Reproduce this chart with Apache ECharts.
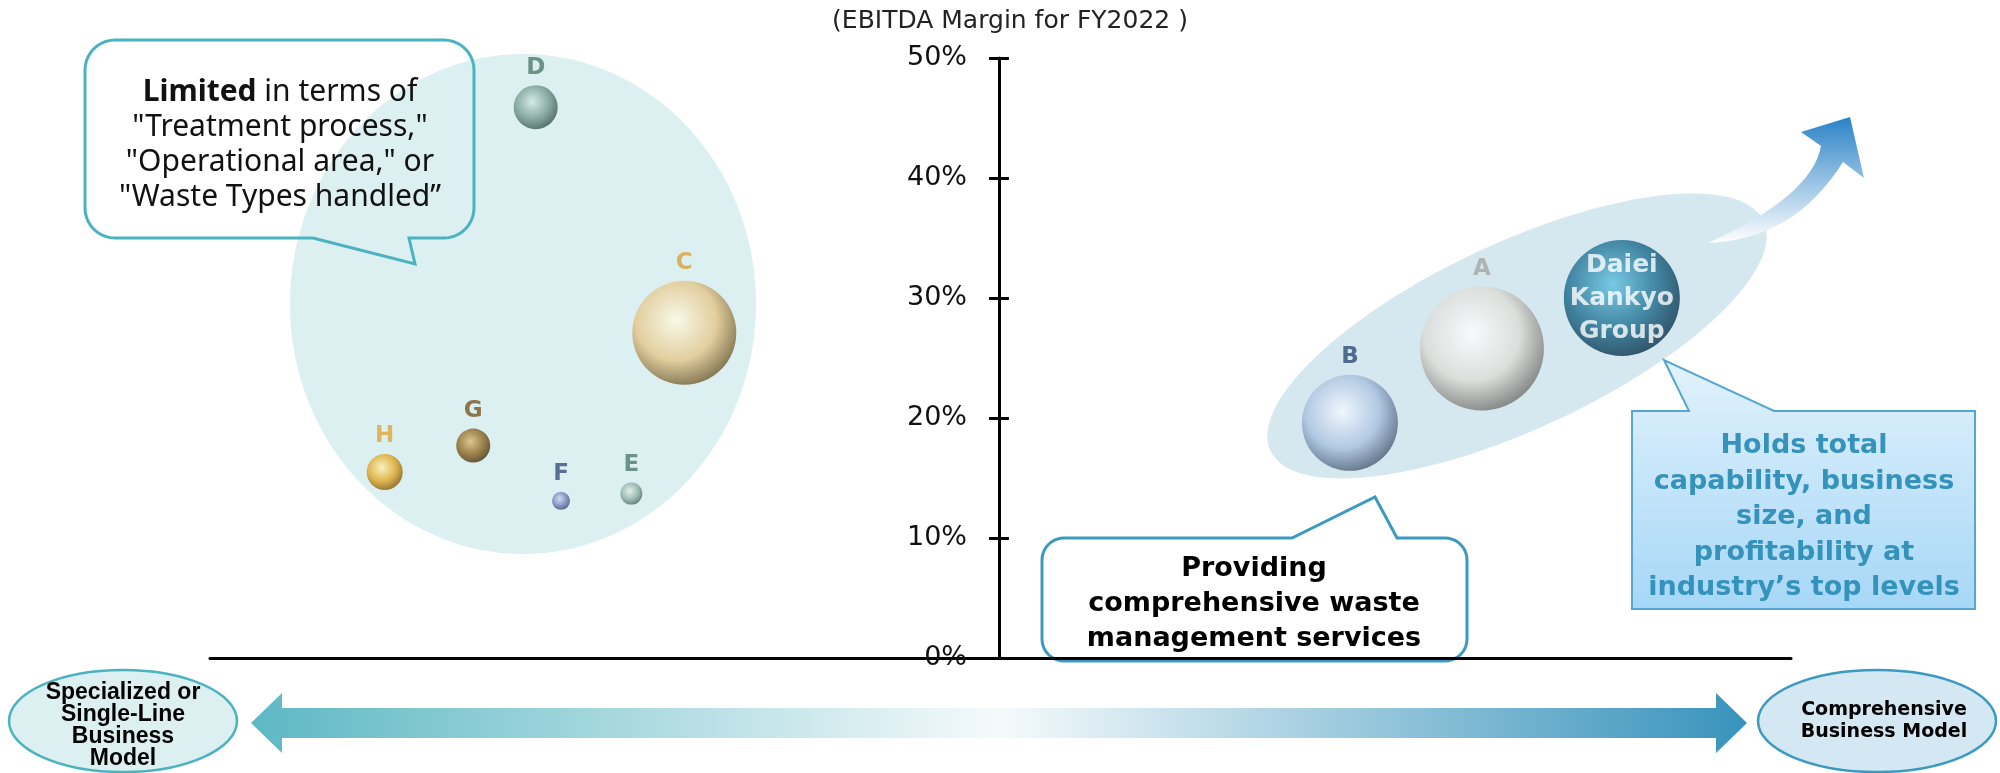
<!DOCTYPE html>
<html><head><meta charset="utf-8">
<script src="https://cdn.jsdelivr.net/npm/echarts@6/dist/echarts.min.js"></script>
<style>html,body{margin:0;padding:0;background:#fff;}#c{width:2000px;height:773px;}</style>
</head><body><div id="c"></div>
<script>
// ---- data ----
const companies = ['D', 'C', 'H', 'G', 'F', 'E', 'B', 'A', 'Daiei Kankyo Group'];
const businessScope = [-58.8, -40.0, -77.9, -66.7, -55.6, -46.7, 44.2, 60.9, 78.6]; // specialized (-) ... comprehensive (+)
const ebitdaMargin = [45.9, 27.1, 15.5, 17.7, 13.1, 13.7, 19.6, 25.8, 30.0];       // EBITDA margin FY2022, %
const businessSize = [44, 104, 36, 34, 18, 22, 96, 124, 116];                      // relative business size
const yTicks = [0, 10, 20, 30, 40, 50];
const axisTitle = '(EBITDA Margin for FY2022 )';

// ---- styles ----
const sphereStyle = {
  'D': ['#d2e8e1', '#74998e', '#28443c', '#4e7a6c'],
  'C': ['#fffbe6', '#e4c68a', '#564218', '#d8a33a'],
  'H': ['#fff2b0', '#dfa626', '#6a4604', '#e0a83a'],
  'G': ['#dcbb78', '#8a6420', '#362506', '#7a5520'],
  'F': ['#ccd7f2', '#6f82b8', '#2b375c', '#3a4d80'],
  'E': ['#e2f0ea', '#8eb0a5', '#3a574d', '#4e7a6c'],
  'B': ['#f6faff', '#a9c1e0', '#33455c', '#2e4a7a'],
  'A': ['#ffffff', '#dcdcd6', '#595955', '#a5a5a5'],
  'Daiei Kankyo Group': ['#62c2e2', '#1c6c8e', '#05243a', '#ffffff']
};
function sphere(c) {
  return { type: 'radial', x: 0.42, y: 0.38, r: 0.7,
    colorStops: [{ offset: 0, color: c[0] }, { offset: 0.55, color: c[1] }, { offset: 1, color: c[2] }] };
}
function roundedPoly(x, y, w, h, r, tail) {
  const pts = [];
  const arc = (cx, cy, a0, a1) => { if (r <= 0) { pts.push([cx, cy]); return; }
    for (let k = 0; k <= 10; k++) { const a = a0 + (a1 - a0) * k / 10; pts.push([cx + r * Math.cos(a), cy + r * Math.sin(a)]); } };
  arc(x + r, y + r, Math.PI, 1.5 * Math.PI);
  if (tail && tail.edge === 'top') pts.push([tail.x1, y], [tail.tx, tail.ty], [tail.x2, y]);
  arc(x + w - r, y + r, 1.5 * Math.PI, 2 * Math.PI);
  arc(x + w - r, y + h - r, 0, 0.5 * Math.PI);
  if (tail && tail.edge === 'bottom') pts.push([tail.x2, y + h], [tail.tx, tail.ty], [tail.x1, y + h]);
  arc(x + r, y + h - r, 0.5 * Math.PI, Math.PI);
  return pts;
}
function quad(p0, c, p2, n) {
  const out = [];
  for (let k = 0; k <= n; k++) { const t = k / n, u = 1 - t;
    out.push([u * u * p0[0] + 2 * u * t * c[0] + t * t * p2[0], u * u * p0[1] + 2 * u * t * c[1] + t * t * p2[1]]); }
  return out;
}

const FONT = 'DejaVu Sans';
const GRID_LEFT = 210, GRID_RIGHT = 209;
const Y_AXIS_X = 999;
const chart = echarts.init(document.getElementById('c'));

const seriesData = companies.map((n, i) => {
  const st = sphereStyle[n];
  const isDaiei = n === 'Daiei Kankyo Group';
  return {
    name: n,
    value: [businessScope[i], ebitdaMargin[i], businessSize[i]],
    itemStyle: { color: sphere(st) },
    label: isDaiei ? {
      show: true, position: 'inside', formatter: 'Daiei\nKankyo\nGroup', color: '#fff',
      fontFamily: FONT, fontWeight: 'bold', fontSize: 25, lineHeight: 33
    } : {
      show: true, position: 'top', distance: 6, formatter: '{b}', color: st[3],
      fontFamily: FONT, fontWeight: 'bold', fontSize: 23
    }
  };
});

// arrow (top right)
const upper = quad([1708, 243], [1812, 196], [1821, 146], 16);
const lower = quad([1843, 162], [1794, 240], [1708, 243], 16);
const curvedArrow = upper.concat([[1801, 132], [1850, 117], [1864, 178]]).concat(lower);

const leftCallout = roundedPoly(85, 40, 389, 198, 30, { edge: 'bottom', x1: 313, x2: 409, tx: 415, ty: 264 });
const midCallout = roundedPoly(1042, 538, 425, 123, 22, { edge: 'top', x1: 1292, x2: 1397, tx: 1375, ty: 497 });
const rightCallout = roundedPoly(1632, 411, 343, 198, 0, { edge: 'top', x1: 1689, x2: 1774, tx: 1664, ty: 360 });

const yOffset = -(Y_AXIS_X - GRID_LEFT);

chart.setOption({
  animation: false,
  backgroundColor: '#ffffff',
  grid: { left: GRID_LEFT, right: GRID_RIGHT, top: 58, bottom: 115, containLabel: false },
  xAxis: [
    { type: 'value', min: -100, max: 100, axisLine: { show: true, onZero: false, lineStyle: { color: '#000', width: 3 } },
      axisTick: { show: false }, axisLabel: { show: false }, splitLine: { show: false } }
  ],
  yAxis: [
    { type: 'value', min: 0, max: 50, interval: 10, position: 'left', offset: yOffset,
      name: axisTitle, nameLocation: 'end', nameGap: 24,
      nameTextStyle: { fontFamily: FONT, fontSize: 25, color: '#222', padding: [0, 0, 0, 22] },
      axisLine: { show: true, onZero: false, lineStyle: { color: '#000', width: 3 } },
      axisTick: { show: true, inside: false, length: 10, lineStyle: { color: '#000', width: 3 } },
      axisLabel: { show: true, formatter: v => yTicks.indexOf(v) >= 0 ? v + '%' : '', margin: 32,
        fontFamily: FONT, fontSize: 27, color: '#111' },
      splitLine: { show: false } },
    { type: 'value', min: 0, max: 50, interval: 10, position: 'left', offset: yOffset,
      axisLine: { show: false, onZero: false },
      axisTick: { show: true, inside: true, length: 10, lineStyle: { color: '#000', width: 3 } },
      axisLabel: { show: false }, splitLine: { show: false } }
  ],
  series: [{
    type: 'scatter', xAxisIndex: 0, yAxisIndex: 0, z: 3,
    symbolSize: v => v[2],
    data: seriesData
  }],
  graphic: { elements: [
    // background groupings
    { type: 'ellipse', z: -5, shape: { cx: 523, cy: 304, rx: 233, ry: 250 }, style: { fill: '#dcf0f1' } },
    { type: 'ellipse', z: -5, x: 1517, y: 336, rotation: 0.436, shape: { cx: 0, cy: 0, rx: 272, ry: 93 }, style: { fill: '#d5e8f0' } },
    // curved arrow
    { type: 'polygon', z: -4, shape: { points: curvedArrow },
      style: { fill: { type: 'linear', x: 0, y: 0, x2: 0, y2: 1, colorStops: [{ offset: 0, color: '#2a82c7' }, { offset: 1, color: '#ffffff' }] } } },
    // left callout
    { type: 'polygon', z: 6, shape: { points: leftCallout }, style: { fill: 'none', stroke: '#4bb3c0', lineWidth: 3 } },
    { type: 'text', z: 7, x: 280, y: 145, style: {
      text: '{b|Limited} in terms of\n"Treatment process,"\n"Operational area," or\n"Waste Types handled\u201d',
      fontFamily: 'Noto Sans', fontSize: 30, lineHeight: 35, fill: '#111', align: 'center', verticalAlign: 'middle',
      rich: { b: { fontFamily: 'Noto Sans', fontWeight: 'bold', fontSize: 30, lineHeight: 35, fill: '#111' } } } },
    // middle callout
    { type: 'polygon', z: -1, shape: { points: midCallout }, style: { fill: '#fff', stroke: '#3a9ac0', lineWidth: 3 } },
    { type: 'text', z: 7, x: 1254, y: 604, style: {
      text: 'Providing\ncomprehensive waste\nmanagement services',
      fontFamily: FONT, fontWeight: 'bold', fontSize: 27, lineHeight: 35, fill: '#000', align: 'center', verticalAlign: 'middle' } },
    // right callout
    { type: 'polygon', z: 6, shape: { points: rightCallout },
      style: { fill: { type: 'linear', x: 0, y: 0, x2: 0, y2: 1, colorStops: [{ offset: 0, color: '#e2f2fc' }, { offset: 1, color: '#a6d7f7' }] },
        stroke: '#55a6d0', lineWidth: 2 } },
    { type: 'text', z: 7, x: 1804, y: 517, style: {
      text: 'Holds total\ncapability, business\nsize, and\nprofitability at\nindustry\u2019s top levels',
      fontFamily: FONT, fontWeight: 'bold', fontSize: 27, lineHeight: 35.5, fill: '#3592bb', align: 'center', verticalAlign: 'middle' } },
    // bottom axis arrow
    { type: 'polygon', z: 1, shape: { points: [[251, 723], [282, 693], [282, 708], [1716, 708], [1716, 693], [1747, 723], [1716, 753], [1716, 738], [282, 738], [282, 753]] },
      style: { fill: { type: 'linear', x: 0, y: 0, x2: 1, y2: 0, colorStops: [
        { offset: 0, color: '#5db8c4' }, { offset: 0.5, color: '#f5fafb' }, { offset: 1, color: '#3893bc' }] } } },
    // end labels
    { type: 'ellipse', z: 2, shape: { cx: 123, cy: 721, rx: 114, ry: 51 }, style: { fill: '#ddf0f1', stroke: '#4bb3c0', lineWidth: 2.5 } },
    { type: 'text', z: 3, x: 123, y: 726, style: { text: 'Specialized or\nSingle-Line\nBusiness\nModel',
      fontFamily: 'Liberation Sans', fontWeight: 'bold', fontSize: 23, lineHeight: 22, fill: '#000', align: 'center', verticalAlign: 'middle' } },
    { type: 'ellipse', z: 2, shape: { cx: 1877, cy: 721, rx: 119, ry: 51 }, style: { fill: '#d3e8f2', stroke: '#3a9ac0', lineWidth: 2.5 } },
    { type: 'text', z: 3, x: 1884, y: 721, style: { text: 'Comprehensive\nBusiness Model',
      fontFamily: FONT, fontWeight: 'bold', fontSize: 19, lineHeight: 22, fill: '#000', align: 'center', verticalAlign: 'middle' } }
  ] }
});
</script>
</body></html>
